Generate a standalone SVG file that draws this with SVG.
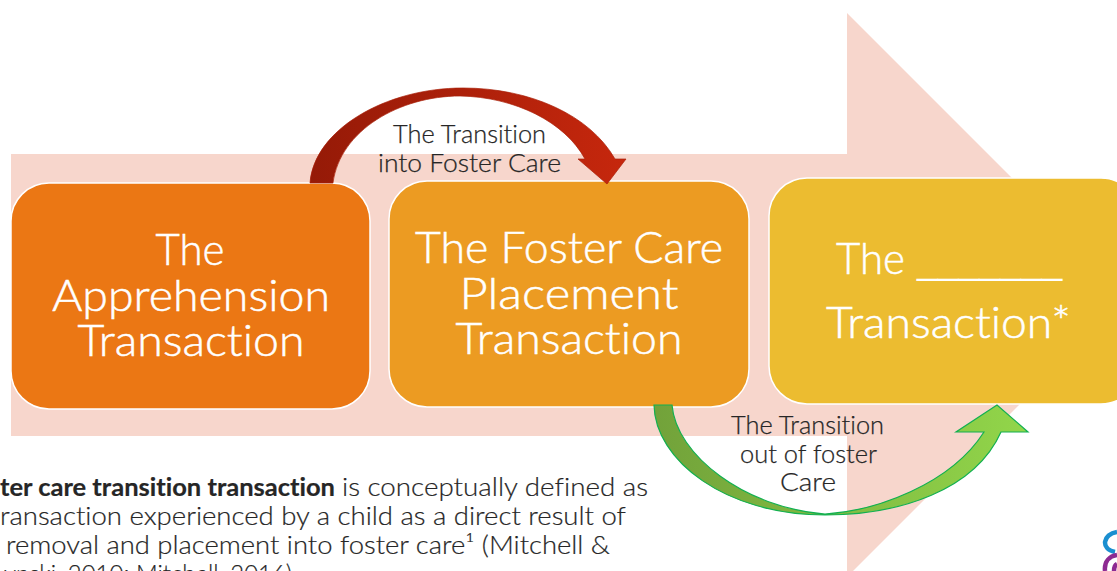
<svg xmlns="http://www.w3.org/2000/svg" width="1117" height="571" viewBox="0 0 1117 571">
<style>
text{font-family:"Lato","Liberation Sans",sans-serif;fill:#262626;font-variant-ligatures:none}
.big{font-size:44px;fill:#fff;font-weight:300;stroke:#fff;stroke-width:.5px}
.lab{font-size:25px;font-weight:300;stroke:#262626;stroke-width:.25px}
.body{font-size:24.5px;font-weight:300;stroke:#262626;stroke-width:.2px}
.box{stroke:#fff;stroke-width:1.5}
</style>
<defs>
<linearGradient id="red" gradientUnits="userSpaceOnUse" x1="310" y1="0" x2="626" y2="0"><stop offset="0" stop-color="#951a07"/><stop offset="1" stop-color="#c6270d"/></linearGradient>
<linearGradient id="green" gradientUnits="userSpaceOnUse" x1="654" y1="0" x2="1028" y2="0"><stop offset="0" stop-color="#72a23a"/><stop offset="1" stop-color="#92d64a"/></linearGradient>
</defs>
<rect width="1117" height="571" fill="#fff"/>
<polygon id="big-arrow" points="11,154 847,154 847,13 1129,295 847,577 847,436 11,436" fill="#f7d6cc"/>
<g id="node-apprehension"><rect class="box" x="11" y="183" width="359" height="226" rx="38" fill="#eb7714"/>
<text class="big" x="190" y="265" text-anchor="middle" textLength="69" lengthAdjust="spacingAndGlyphs">The</text>
<text class="big" x="191" y="311" text-anchor="middle" textLength="278" lengthAdjust="spacingAndGlyphs">Apprehension</text>
<text class="big" x="191" y="356" text-anchor="middle" textLength="227" lengthAdjust="spacingAndGlyphs">Transaction</text></g>
<g id="node-placement"><rect class="box" x="389" y="181" width="360" height="226" rx="38" fill="#ec9b22"/>
<text class="big" x="569" y="263" text-anchor="middle" textLength="308" lengthAdjust="spacingAndGlyphs">The Foster Care</text>
<text class="big" x="569" y="309" text-anchor="middle" textLength="219" lengthAdjust="spacingAndGlyphs">Placement</text>
<text class="big" x="569" y="354" text-anchor="middle" textLength="227" lengthAdjust="spacingAndGlyphs">Transaction</text></g>
<g id="node-blank"><rect class="box" x="769" y="178" width="370" height="226" rx="38" fill="#ecbc30"/>
<text class="big" x="836" y="274"><tspan textLength="69" lengthAdjust="spacingAndGlyphs">The</tspan><tspan x="917" style="font-family:'Liberation Sans',sans-serif;font-size:37.300px;stroke:none">_______</tspan></text>
<text class="big" x="826" y="338" textLength="245" lengthAdjust="spacingAndGlyphs">Transaction*</text></g>
<g id="connectors">
<path id="into-arrow" d="M310,183C314,130 385,88 463,88C530,88 590,115 615,159L626,159L607,184L578,159L585,159C565,122 515,97 460,96C400,96 340,130 333,183Z" fill="url(#red)" stroke="#a92009" stroke-width="0.7"/>
<path id="out-arrow" d="M654,405L672,405C676,455 745,508 825,514C875,511 950,485 984,432L956,432L997,405L1028,432L1001,432C975,490 900,515 825,515C725,515 655,460 654,405Z" fill="url(#green)" stroke="#12b050" stroke-width="1.2"/>
</g>
<g id="labels">
<text class="lab" x="469.500" y="143" text-anchor="middle" textLength="153" lengthAdjust="spacingAndGlyphs">The Transition</text>
<text class="lab" x="469.500" y="172" text-anchor="middle" textLength="183" lengthAdjust="spacingAndGlyphs">into Foster Care</text>
<text class="lab" x="807.500" y="434" text-anchor="middle" textLength="153" lengthAdjust="spacingAndGlyphs">The Transition</text>
<text class="lab" x="808.500" y="463" text-anchor="middle" textLength="137" lengthAdjust="spacingAndGlyphs">out of foster</text>
<text class="lab" x="808" y="491" text-anchor="middle" textLength="56" lengthAdjust="spacingAndGlyphs">Care</text>
</g>
<g id="definition">
<text class="body" y="496"><tspan x="0" font-weight="700" textLength="335" lengthAdjust="spacingAndGlyphs">ter care transition transaction</tspan><tspan x="342" textLength="306" lengthAdjust="spacingAndGlyphs">is conceptually defined as</tspan></text>
<text class="body" x="0" y="525" textLength="626" lengthAdjust="spacingAndGlyphs">ransaction experienced by a child as a direct result of</text>
<text class="body" x="6" y="554" textLength="604" lengthAdjust="spacingAndGlyphs">removal and placement into foster care¹ (Mitchell &amp;</text>
<text class="body" x="4" y="583" textLength="288" lengthAdjust="spacingAndGlyphs">ynski, 2010; Mitchell, 2016)</text>
</g>
<g id="logo" fill="none" stroke-width="4.500">
<path d="M1117,532C1103,534 1100,549 1115,552" stroke="#1b8fd0"/>
<path d="M1105,571C1104,561 1110,556 1117,555" stroke="#8e2a92"/>
<path d="M1114,571C1114,567 1115,565 1117,564" stroke="#8e2a92"/>
</g>
</svg>
